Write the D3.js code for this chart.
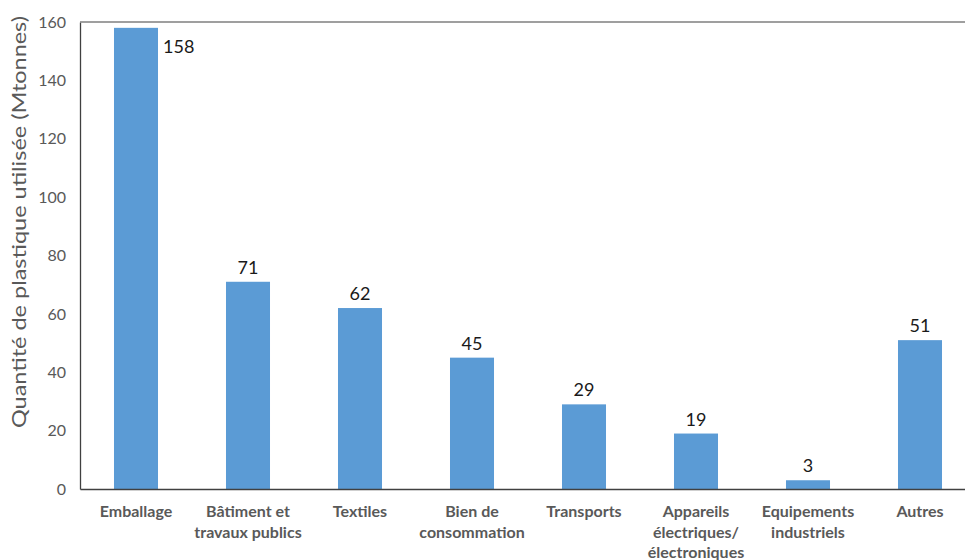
<!DOCTYPE html>
<html><head><meta charset="utf-8">
<script src="https://cdn.jsdelivr.net/npm/d3@7"></script>
<style>body{margin:0;background:#fff;}svg{display:block;}</style>
</head><body>
<svg id="c" width="965" height="560"></svg>
<script>
const categories = [
  ["Emballage"],
  ["Bâtiment et", "travaux publics"],
  ["Textiles"],
  ["Bien de", "consommation"],
  ["Transports"],
  ["Appareils", "électriques/", "électroniques"],
  ["Equipements", "industriels"],
  ["Autres"]
];
const values = [158, 71, 62, 45, 29, 19, 3, 51];
const yTicks = [0, 20, 40, 60, 80, 100, 120, 140, 160];
const yTitle = "Quantité de plastique utilisée (Mtonnes)";

(function () {
const svg = d3.select("#c");
const mLeft = 80, mRight = 976, mTop = 22, mBottom = 489;
const ids = categories.map((c, i) => i);
const x = d3.scaleBand().domain(ids).range([mLeft, mRight]).paddingInner(0.607).paddingOuter(0.3035);
const y = d3.scaleLinear().domain([0, 160]).range([mBottom, mTop]);

// bars
svg.selectAll("rect.bar").data(values).enter().append("rect")
  .attr("x", (d, i) => x(i)).attr("width", x.bandwidth())
  .attr("y", d => y(d)).attr("height", d => y(0) - y(d))
  .attr("fill", "#5b9bd5");

// frame: left axis, top line, bottom axis
const yAxis = d3.axisLeft(y).tickValues(yTicks).tickSize(0).tickPadding(14);
const gy = svg.append("g").attr("transform", `translate(${mLeft},0)`).call(yAxis);
gy.select(".domain").attr("stroke", "#404040").attr("stroke-width", 1.3);
gy.selectAll("text").attr("font-family", "Lato, 'Open Sans', sans-serif").attr("font-size", 16).attr("fill", "#595959");

svg.append("line").attr("x1", mLeft).attr("x2", 965).attr("y1", mTop).attr("y2", mTop)
  .attr("stroke", "#7f7f7f").attr("stroke-width", 1.5);

const xAxis = d3.axisBottom(x).tickSize(0).tickFormat("");
const gx = svg.append("g").attr("transform", `translate(0,${mBottom})`).call(xAxis);
gx.select(".domain").attr("stroke", "#404040").attr("stroke-width", 1.3);

// category labels
const cl = svg.append("g");
categories.forEach((lines, i) => {
  const t = cl.append("text").attr("x", x(i) + x.bandwidth() / 2).attr("y", 517)
    .attr("text-anchor", "middle").attr("font-family", "Lato, 'Open Sans', sans-serif")
    .attr("font-weight", "bold").attr("font-size", 16).attr("fill", "#595959");
  lines.forEach((ln, j) => t.append("tspan").attr("x", x(i) + x.bandwidth() / 2).attr("dy", j === 0 ? 0 : 20.5).text(ln));
});

// value labels
svg.selectAll("text.val").data(values).enter().append("text").attr("class", "val")
  .attr("x", (d, i) => i === 0 ? x(i) + x.bandwidth() + 5 : x(i) + x.bandwidth() / 2)
  .attr("y", (d, i) => i === 0 ? y(d) + 25 : y(d) - 8)
  .attr("text-anchor", (d, i) => i === 0 ? "start" : "middle")
  .attr("font-family", "Lato, 'Open Sans', sans-serif").attr("font-size", 18).attr("fill", "#1a1a1a")
  .text(d => d);

// y title
svg.append("text").attr("transform", `translate(26,222) rotate(-90)`)
  .attr("text-anchor", "middle").attr("font-family", "Lato, 'Open Sans', sans-serif")
  .attr("font-size", 20).attr("fill", "#595959")
  .attr("textLength", 412).attr("lengthAdjust", "spacingAndGlyphs").text(yTitle);
})();
</script>
</body></html>
